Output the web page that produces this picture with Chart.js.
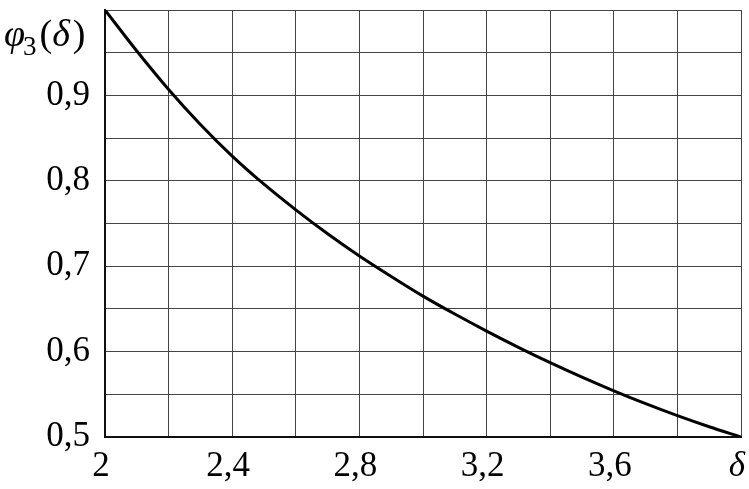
<!DOCTYPE html>
<html>
<head>
<meta charset="utf-8">
<script src="https://cdn.jsdelivr.net/npm/chart.js@4/dist/chart.umd.min.js"></script>
<style>
html,body{margin:0;padding:0;background:#fff;}
#wrap{width:749px;height:489px;position:relative;}
</style>
</head>
<body>
<div id="wrap"><canvas id="c" width="749" height="489"></canvas></div>
<script>
// delta values (x axis)
const deltaValues = [2.0, 2.1, 2.2, 2.3, 2.4, 2.5, 2.6, 2.7, 2.8, 2.9, 3.0, 3.1, 3.2, 3.3, 3.4, 3.5, 3.6, 3.7, 3.8, 3.9, 4.0];
// phi3(delta) values
const phiValues = [1.000, 0.952, 0.907, 0.866, 0.829, 0.796, 0.766, 0.738, 0.712, 0.688, 0.665, 0.644, 0.624, 0.605, 0.587, 0.570, 0.554, 0.539, 0.525, 0.512, 0.500];
// tick labels
const xTickLabels = {2: "2", 2.4: "2,4", 2.8: "2,8", 3.2: "3,2", 3.6: "3,6", 4: "δ"};
const yTickLabels = {0.5: "0,5", 0.6: "0,6", 0.7: "0,7", 0.8: "0,8", 0.9: "0,9"};
const yAxisTitle = ["φ", "3", "(", "δ", ")"];

const SERIF = '"Liberation Serif", "DejaVu Serif", serif';

function lookup(map, v) {
  for (const k in map) { if (Math.abs(parseFloat(k) - v) < 1e-6) return map[k]; }
  return "";
}

const titlePlugin = {
  id: 'ytitle',
  afterDraw(chart) {
    const ctx = chart.ctx;
    ctx.save();
    ctx.fillStyle = '#000';
    ctx.textBaseline = 'alphabetic';
    let x = 4;
    const base = 46;
    ctx.font = 'italic 38px ' + SERIF;
    ctx.fillText(yAxisTitle[0], x, base);
    x += ctx.measureText(yAxisTitle[0]).width - 2;
    ctx.font = '27px ' + SERIF;
    ctx.fillText(yAxisTitle[1], x, base + 9);
    x += ctx.measureText(yAxisTitle[1]).width + 3;
    ctx.font = '38px ' + SERIF;
    ctx.fillText(yAxisTitle[2], x, base);
    x += ctx.measureText(yAxisTitle[2]).width;
    ctx.font = 'italic 38px ' + SERIF;
    ctx.fillText(yAxisTitle[3], x, base);
    x += ctx.measureText(yAxisTitle[3]).width + 3;
    ctx.font = '38px ' + SERIF;
    ctx.fillText(yAxisTitle[4], x, base);
    ctx.restore();
  }
};

new Chart(document.getElementById('c'), {
  type: 'line',
  data: {
    datasets: [{
      data: deltaValues.map((d, i) => ({x: d, y: phiValues[i]})),
      borderColor: '#000',
      borderWidth: 3,
      pointRadius: 0,
      fill: false,
      cubicInterpolationMode: 'monotone'
    }]
  },
  options: {
    responsive: false,
    animation: false,
    layout: {padding: {top: 10, right: 8, left: 0, bottom: 0}},
    plugins: {legend: {display: false}, tooltip: {enabled: false}},
    scales: {
      x: {
        type: 'linear',
        min: 2, max: 4,
        afterFit(s) { s.height = 52; s.paddingLeft = 0; s.paddingRight = 0; },
        ticks: {
          stepSize: 0.2,
          autoSkip: false,
          maxRotation: 0,
          padding: 9,
          labelOffset: -4,
          color: '#000',
          font: (c) => ({family: SERIF, size: 35, style: (c.tick && Math.abs(c.tick.value - 4) < 1e-6) ? 'italic' : 'normal'}),
          callback: (v) => lookup(xTickLabels, v)
        },
        grid: {color: '#444', lineWidth: 1, drawTicks: false},
        border: {color: '#111', width: 2}
      },
      y: {
        type: 'linear',
        min: 0.5, max: 1.0,
        afterFit(s) { s.width = 105; s.paddingTop = 0; s.paddingBottom = 0; },
        ticks: {
          stepSize: 0.05,
          autoSkip: false,
          padding: 15,
          color: '#000',
          font: {family: SERIF, size: 35},
          callback: (v) => lookup(yTickLabels, v)
        },
        grid: {color: '#444', lineWidth: 1, drawTicks: false},
        border: {color: '#111', width: 2}
      }
    }
  },
  plugins: [titlePlugin]
});
</script>
</body>
</html>
